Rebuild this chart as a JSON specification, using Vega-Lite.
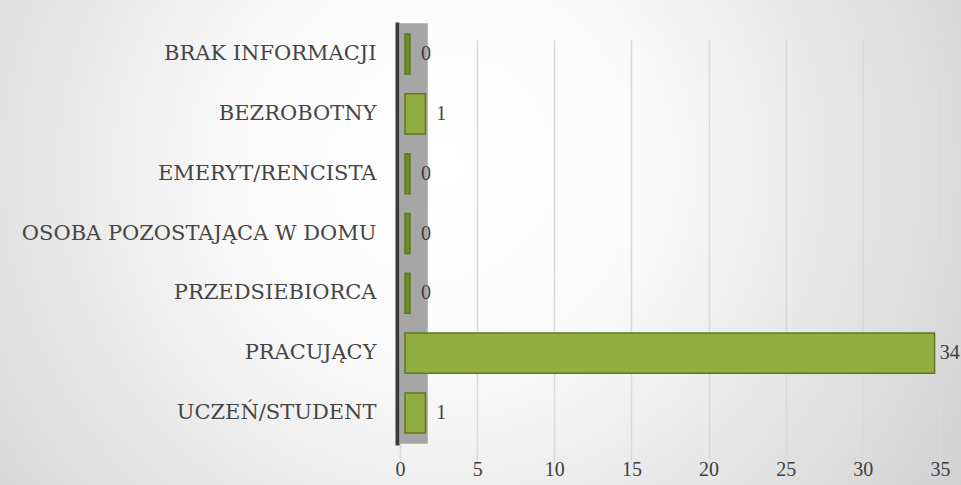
{
  "$schema": "https://vega.github.io/schema/vega-lite/v6.json",
  "autosize": {"type": "none"},
  "padding": 0,
  "width": 961,
  "height": 485,
  "background": "#cfcfcf",
  "config": {
    "view": {
      "stroke": null,
      "fill": {
        "gradient": "radial",
        "x1": 0.46, "y1": 0.42, "r1": 0,
        "x2": 0.46, "y2": 0.42, "r2": 0.68,
        "stops": [
          {"offset": 0, "color": "#ffffff"},
          {"offset": 0.3, "color": "#fbfbfb"},
          {"offset": 1, "color": "#cdcdcd"}
        ]
      }
    },
    "font": "Liberation Serif"
  },
  "data": {
    "values": [
      {"kategoria": "BRAK INFORMACJI", "liczba": 0},
      {"kategoria": "BEZROBOTNY", "liczba": 1},
      {"kategoria": "EMERYT/RENCISTA", "liczba": 0},
      {"kategoria": "OSOBA POZOSTAJĄCA W DOMU", "liczba": 0},
      {"kategoria": "PRZEDSIEBIORCA", "liczba": 0},
      {"kategoria": "PRACUJĄCY", "liczba": 34},
      {"kategoria": "UCZEŃ/STUDENT", "liczba": 1}
    ]
  },
  "encoding": {
    "y": {
      "field": "kategoria",
      "type": "nominal",
      "sort": null,
      "scale": {"range": [22, 445], "paddingInner": 0.33, "paddingOuter": 0.2},
      "axis": {
        "title": null,
        "offset": -397,
        "ticks": false,
        "domain": true,
        "domainColor": "#3a3a3a",
        "domainWidth": 4,
        "labelFont": "DejaVu Serif",
        "labelFontSize": 21,
        "labelColor": "#454545",
        "labelPadding": 21,
        "labelLimit": 400
      }
    }
  },
  "resolve": {"scale": {"x": "independent"}, "axis": {"x": "independent"}},
  "layer": [
    {
      "layer": [
        {
          "mark": {"type": "bar", "color": "#a6a6a6", "height": {"band": 1.53}},
          "encoding": {
            "x": {"datum": 0, "type": "quantitative", "scale": {"domain": [0, 35], "range": [400, 940], "nice": false}},
            "x2": {"datum": 1.8}
          }
        },
        {
          "mark": {
            "type": "bar",
            "stroke": "#5e791b",
            "strokeWidth": 1.5,
            "xOffset": 10,
            "x2Offset": 5
          },
          "encoding": {
            "x": {
              "field": "liczba",
              "type": "quantitative",
              "stack": null,
              "axis": {
                "title": null,
                "offset": -40,
                "values": [0, 5, 10, 15, 20, 25, 30, 35],
                "domain": false,
                "ticks": false,
                "grid": true,
                "gridColor": "#d9d9d9",
                "gridWidth": 1.5,
                "labelFlush": false,
                "labelFont": "Liberation Serif",
                "labelFontSize": 20,
                "labelColor": "#404040",
                "labelPadding": 14
              }
            },
            "x2": {"datum": 0},
            "fill": {
              "condition": {"test": "datum.liczba === 0", "value": "#6e8a2b"},
              "value": "#94ad42"
            }
          }
        }
      ]
    },
    {
      "mark": {
        "type": "text",
        "align": "left",
        "baseline": "middle",
        "fontSize": 20,
        "font": "Liberation Serif",
        "color": "#404040"
      },
      "encoding": {
        "x": {
          "field": "liczba",
          "type": "quantitative",
          "scale": {"domain": [0, 35], "range": [421, 955], "nice": false},
          "axis": null
        },
        "text": {"field": "liczba", "type": "quantitative"}
      }
    }
  ]
}
